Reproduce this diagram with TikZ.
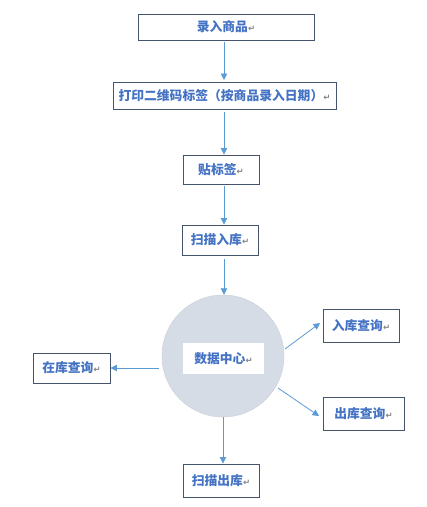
\documentclass[tikz,border=0pt]{standalone}
\usepackage{fontspec}
\newfontfamily\cjk{Noto Sans CJK SC}
\newfontfamily\dv{DejaVu Sans}
\usetikzlibrary{arrows.meta}
\definecolor{boxline}{HTML}{44546A}
\definecolor{txtblue}{HTML}{4472C4}
\definecolor{arrblue}{HTML}{5B9BD5}
\definecolor{circfill}{HTML}{D6DCE5}
\newcommand{\pmark}{{\dv\fontsize{8.5}{8.5}\selectfont\color{gray}↵}}
\tikzset{
  boxnode/.style={draw=boxline, line width=0.9pt, rectangle, inner sep=0pt,
    font=\cjk\bfseries\fontsize{12.8}{12.8}\selectfont, text=txtblue},
  arr/.style={draw=arrblue, line width=0.8pt, -{Triangle[length=6.5pt,width=6.5pt]}},
}
\begin{document}
\begin{tikzpicture}[x=1pt,y=-1pt]
\useasboundingbox (0,0) rectangle (427,507);
\node[boxnode, minimum width=176pt, minimum height=26pt] (b1) at (226,27) {录入商品\pmark};
\node[boxnode, minimum width=223pt, minimum height=27pt] (b2) at (224.5,95.5) {打印二维码标签（按商品录入日期）\pmark};
\node[boxnode, minimum width=76pt, minimum height=29pt] (b3) at (221,169.5) {贴标签\pmark};
\node[boxnode, minimum width=76pt, minimum height=30pt] (b4) at (220,240) {扫描入库\pmark};
\node[circle, fill=circfill, draw=circfill!85!gray, line width=0.4pt, minimum size=122pt, inner sep=0pt] (c) at (223,356) {};
\node[fill=white, minimum width=81pt, minimum height=31pt, inner sep=0pt,
  font=\cjk\bfseries\fontsize{12.8}{12.8}\selectfont, text=txtblue] (dc) at (223.5,358.5) {数据中心\pmark};
\node[boxnode, minimum width=77pt, minimum height=30pt] (zk) at (71.5,368) {在库查询\pmark};
\node[boxnode, minimum width=76pt, minimum height=33pt] (rk) at (361,325.5) {入库查询\pmark};
\node[boxnode, minimum width=81pt, minimum height=33pt] (ck) at (363.5,413.5) {出库查询\pmark};
\node[boxnode, minimum width=76pt, minimum height=33pt] (sc) at (221,480.5) {扫描出库\pmark};
\coordinate (cr1) at (285,349);
\coordinate (cr2) at (278,388);
\coordinate (cl) at (159,368);
\draw[arr] (b1.south -| 224,0) ++(0,2) -- (224,80);
\draw[arr] (224,112) -- (b3.north -| 224,0);
\draw[arr] (224,186) -- (b4.north -| 224,0);
\draw[arr] (224,259) -- (c.north -| 224,0);
\draw[arr] (cl) -- (zk.east);
\draw[arr] (cr1) -- (320,323);
\draw[arr] (cr2) -- (319,416);
\draw[arr] (c.south -| 223,0) -- (sc.north -| 223,0);
\end{tikzpicture}
\end{document}
